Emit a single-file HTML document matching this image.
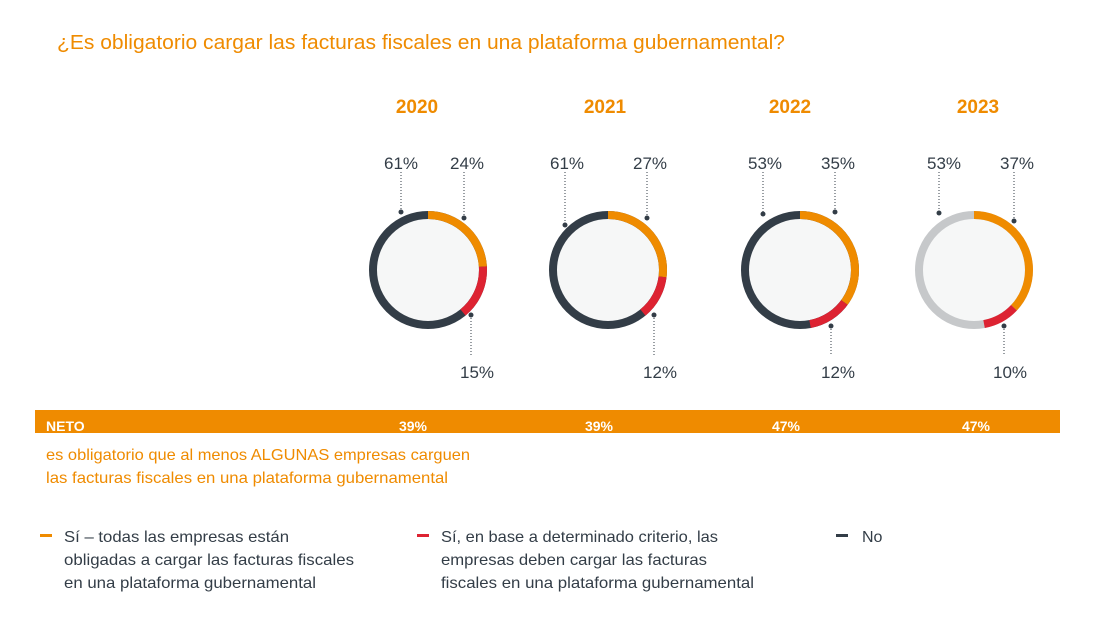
<!DOCTYPE html>
<html><head><meta charset="utf-8"><style>
body{margin:0;width:1103px;height:628px;background:#fff;overflow:hidden;font-family:"Liberation Sans",Arial,sans-serif}
</style></head><body>
<svg width="1103" height="628" viewBox="0 0 1103 628" xmlns="http://www.w3.org/2000/svg" font-family="Liberation Sans, Arial, sans-serif">
<text x="57" y="49" font-size="20" fill="#ef8b00" textLength="728" lengthAdjust="spacingAndGlyphs">¿Es obligatorio cargar las facturas fiscales en una plataforma gubernamental?</text>
<g font-size="19" font-weight="bold" fill="#ef8b00" text-anchor="middle">
<text x="417" y="113">2020</text><text x="605" y="113">2021</text><text x="790" y="113">2022</text><text x="978" y="113">2023</text>
</g>
<g fill="#f6f7f7" stroke-width="8">
<g transform="translate(428,270) rotate(-90)">
<circle r="55" stroke="#333d47"/>
<circle r="55" fill="none" stroke="#ef8b00" stroke-dasharray="82.9 400"/>
<circle r="55" fill="none" stroke="#dd2332" stroke-dasharray="0 82.9 51.8 400"/>
</g>
<g transform="translate(608,270) rotate(-90)">
<circle r="55" stroke="#333d47"/>
<circle r="55" fill="none" stroke="#ef8b00" stroke-dasharray="93.3 400"/>
<circle r="55" fill="none" stroke="#dd2332" stroke-dasharray="0 93.3 41.5 400"/>
</g>
<g transform="translate(800,270) rotate(-90)">
<circle r="55" stroke="#333d47"/>
<circle r="55" fill="none" stroke="#ef8b00" stroke-dasharray="121 400"/>
<circle r="55" fill="none" stroke="#dd2332" stroke-dasharray="0 121 41.5 400"/>
</g>
<g transform="translate(974,270) rotate(-90)">
<circle r="55" stroke="#c6c8ca"/>
<circle r="55" fill="none" stroke="#ef8b00" stroke-dasharray="127.9 400"/>
<circle r="55" fill="none" stroke="#dd2332" stroke-dasharray="0 127.9 34.6 400"/>
</g>
</g>
<g stroke="#333d47" stroke-width="1" stroke-dasharray="1 2">
<line x1="401" y1="172" x2="401" y2="212"/><line x1="464" y1="172" x2="464" y2="218"/><line x1="471" y1="315" x2="471" y2="355"/>
<line x1="565" y1="172" x2="565" y2="225"/><line x1="647" y1="172" x2="647" y2="218"/><line x1="654" y1="315" x2="654" y2="355"/>
<line x1="763" y1="172" x2="763" y2="214"/><line x1="835" y1="172" x2="835" y2="212"/><line x1="831" y1="326" x2="831" y2="355"/>
<line x1="939" y1="172" x2="939" y2="213"/><line x1="1014" y1="172" x2="1014" y2="221"/><line x1="1004" y1="326" x2="1004" y2="355"/>
</g>
<g fill="#333d47">
<circle cx="401" cy="212" r="2.5"/><circle cx="464" cy="218" r="2.5"/><circle cx="471" cy="315" r="2.5"/>
<circle cx="565" cy="225" r="2.5"/><circle cx="647" cy="218" r="2.5"/><circle cx="654" cy="315" r="2.5"/>
<circle cx="763" cy="214" r="2.5"/><circle cx="835" cy="212" r="2.5"/><circle cx="831" cy="326" r="2.5"/>
<circle cx="939" cy="213" r="2.5"/><circle cx="1014" cy="221" r="2.5"/><circle cx="1004" cy="326" r="2.5"/>
</g>
<g font-size="17" fill="#333d47" text-anchor="middle">
<text x="401" y="169">61%</text><text x="467" y="169">24%</text><text x="477" y="378">15%</text>
<text x="567" y="169">61%</text><text x="650" y="169">27%</text><text x="660" y="378">12%</text>
<text x="765" y="169">53%</text><text x="838" y="169">35%</text><text x="838" y="378">12%</text>
<text x="944" y="169">53%</text><text x="1017" y="169">37%</text><text x="1010" y="378">10%</text>
</g>
<rect x="35" y="410" width="1025" height="23" fill="#ef8b00"/>
<g font-size="14" font-weight="bold" fill="#fff">
<text x="46" y="431">NETO</text>
<g text-anchor="middle"><text x="413" y="431">39%</text><text x="599" y="431">39%</text><text x="786" y="431">47%</text><text x="976" y="431">47%</text></g>
</g>
<g font-size="16" fill="#ef8b00">
<text x="46" y="460" textLength="424" lengthAdjust="spacingAndGlyphs">es obligatorio que al menos ALGUNAS empresas carguen</text>
<text x="46" y="483" textLength="402" lengthAdjust="spacingAndGlyphs">las facturas fiscales en una plataforma gubernamental</text>
</g>
<rect x="40" y="534" width="12" height="3" fill="#ef8b00"/>
<rect x="417" y="534" width="12" height="3" fill="#dd2332"/>
<rect x="836" y="534" width="12" height="3" fill="#333d47"/>
<g font-size="16" fill="#333d47">
<text x="64" y="542" textLength="225" lengthAdjust="spacingAndGlyphs">Sí – todas las empresas están</text>
<text x="64" y="565" textLength="290" lengthAdjust="spacingAndGlyphs">obligadas a cargar las facturas fiscales</text>
<text x="64" y="588" textLength="252" lengthAdjust="spacingAndGlyphs">en una plataforma gubernamental</text>
<text x="441" y="542" textLength="277" lengthAdjust="spacingAndGlyphs">Sí, en base a determinado criterio, las</text>
<text x="441" y="565" textLength="266" lengthAdjust="spacingAndGlyphs">empresas deben cargar las facturas</text>
<text x="441" y="588" textLength="313" lengthAdjust="spacingAndGlyphs">fiscales en una plataforma gubernamental</text>
<text x="862" y="542">No</text>
</g>
</svg>
</body></html>
